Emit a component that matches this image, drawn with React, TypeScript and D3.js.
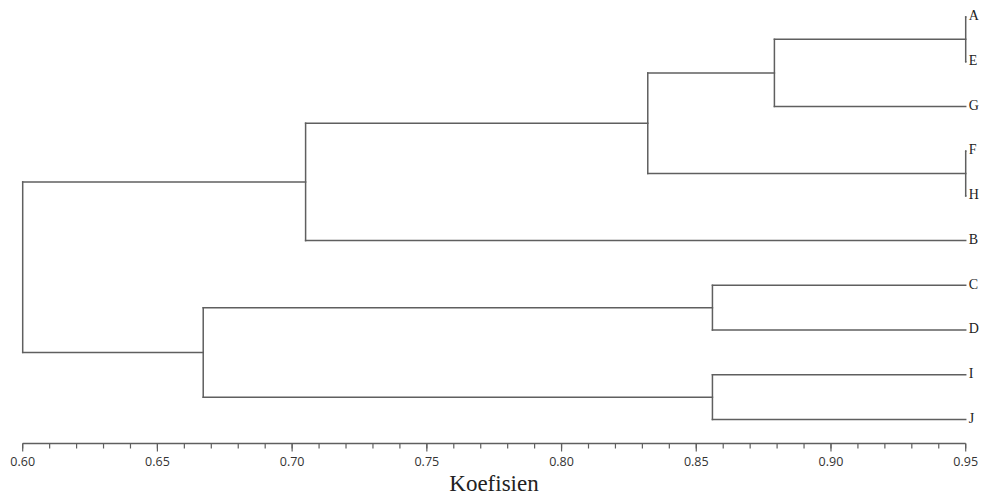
import React from "react";
import * as d3 from "d3";

const W = 985;
const H = 495;

const leaves = ["A", "E", "G", "F", "H", "B", "C", "D", "I", "J"];
const leafHeight = 0.95;

// merges in order: [id, left child, right child, coefficient]
const merges: [string, string, string, number][] = [
  ["AE", "A", "E", 0.95],
  ["FH", "F", "H", 0.95],
  ["AEG", "AE", "G", 0.879],
  ["AEGFH", "AEG", "FH", 0.832],
  ["AEGFHB", "AEGFH", "B", 0.705],
  ["CD", "C", "D", 0.856],
  ["IJ", "I", "J", 0.856],
  ["CDIJ", "CD", "IJ", 0.667],
  ["root", "AEGFHB", "CDIJ", 0.6],
];

const majorTicks = [0.6, 0.65, 0.7, 0.75, 0.8, 0.85, 0.9, 0.95];
const tickLabels = ["0.60", "0.65", "0.70", "0.75", "0.80", "0.85", "0.90", "0.95"];

const axisTitle = "Koefisien";

const x = d3.scaleLinear().domain([0.6, 0.95]).range([22.7, 965.7]);
const y = d3.scalePoint<string>().domain(leaves).range([17, 419.5]);
const axisY = 443.5;

const stroke = "#5f5f5f";

export default function App() {
  // node positions
  const pos: Record<string, { x: number; y: number }> = {};
  leaves.forEach((l) => (pos[l] = { x: x(leafHeight), y: y(l)! }));
  const segs: { x1: number; y1: number; x2: number; y2: number }[] = [];
  merges.forEach(([id, a, b, h]) => {
    const px = x(h);
    const pa = pos[a];
    const pb = pos[b];
    segs.push({ x1: pa.x, y1: pa.y, x2: px, y2: pa.y });
    segs.push({ x1: pb.x, y1: pb.y, x2: px, y2: pb.y });
    segs.push({ x1: px, y1: pa.y, x2: px, y2: pb.y });
    pos[id] = { x: px, y: (pa.y + pb.y) / 2 };
  });

  const minorTicks = d3.range(0, 36).map((i) => 0.6 + i * 0.01);

  return (
    <svg
      width={W}
      height={H}
      style={{ position: "absolute", left: 0, top: 0, background: "#fff" }}
    >
      <g>
        {segs.map((s, i) => (
          <line
            key={i}
            x1={s.x1}
            y1={s.y1}
            x2={s.x2}
            y2={s.y2}
            stroke={stroke}
            strokeWidth={1.5}
            strokeLinecap="square"
          />
        ))}
      </g>
      <g fontFamily="'Liberation Serif', serif" fontSize={14} fill="#222">
        {leaves.map((l) => (
          <text key={l} x={x(leafHeight) + 3} y={y(l)!} dominantBaseline="middle">
            {l}
          </text>
        ))}
      </g>
      <g>
        <line x1={x(0.6)} x2={x(0.95)} y1={axisY} y2={axisY} stroke={stroke} strokeWidth={1.5} />
        {minorTicks.map((t, i) => (
          <line key={i} x1={x(t)} x2={x(t)} y1={axisY} y2={axisY + 5} stroke={stroke} strokeWidth={1.2} />
        ))}
        {majorTicks.map((t, i) => (
          <g key={i}>
            <line x1={x(t)} x2={x(t)} y1={axisY} y2={axisY + 8} stroke={stroke} strokeWidth={1.2} />
            <text
              x={x(t)}
              y={466}
              textAnchor="middle"
              fontFamily="'Open Sans', sans-serif"
              fontSize={12.5}
              fill="#333"
            >
              {tickLabels[i]}
            </text>
          </g>
        ))}
        <text
          x={494}
          y={491}
          textAnchor="middle"
          fontFamily="'Liberation Serif', serif"
          fontSize={23}
          fill="#222"
        >
          {axisTitle}
        </text>
      </g>
    </svg>
  );
}
